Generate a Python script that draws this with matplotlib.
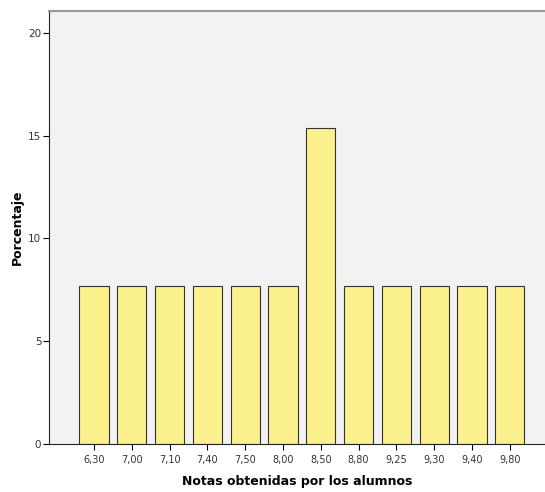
import matplotlib
matplotlib.use('Agg')
import matplotlib.pyplot as plt

notas = ['6,30', '7,00', '7,10', '7,40', '7,50', '8,00', '8,50',
         '8,80', '9,25', '9,30', '9,40', '9,80']
porcentaje = [7.69, 7.69, 7.69, 7.69, 7.69, 7.69, 15.38,
              7.69, 7.69, 7.69, 7.69, 7.69]

fig = plt.figure(figsize=(5.45, 4.92), dpi=100)
ax = fig.add_axes([49/545, 48/492, 1 - 49/545, (444 - 11)/492])
ax.set_facecolor('#f2f2f2')

x = range(len(notas))
ax.bar(x, porcentaje, width=0.77, color='#faf08c', edgecolor='#333333', linewidth=0.8)

ax.set_xlim(-1.19, 11.93)
ax.set_ylim(0, 21.07)
ax.set_xticks(list(x))
ax.set_xticklabels(notas, fontsize=7, color='#333333')
ax.set_yticks([0, 5, 10, 15, 20])
ax.set_yticklabels(['0', '5', '10', '15', '20'], fontsize=7.5, color='#333333')
ax.tick_params(axis='y', length=4, width=0.8, pad=1.5)
ax.tick_params(axis='x', length=4, width=0.8, pad=4)

ax.spines['right'].set_visible(False)
ax.spines['top'].set_color('#999999')
ax.spines['top'].set_linewidth(1.5)
ax.spines['left'].set_color('#222222')
ax.spines['bottom'].set_color('#222222')

ax.set_xlabel('Notas obtenidas por los alumnos', fontsize=9, fontweight='bold', labelpad=7)
ax.set_ylabel('Porcentaje', fontsize=9, fontweight='bold', labelpad=3)

fig.savefig('out.png', dpi=100)
